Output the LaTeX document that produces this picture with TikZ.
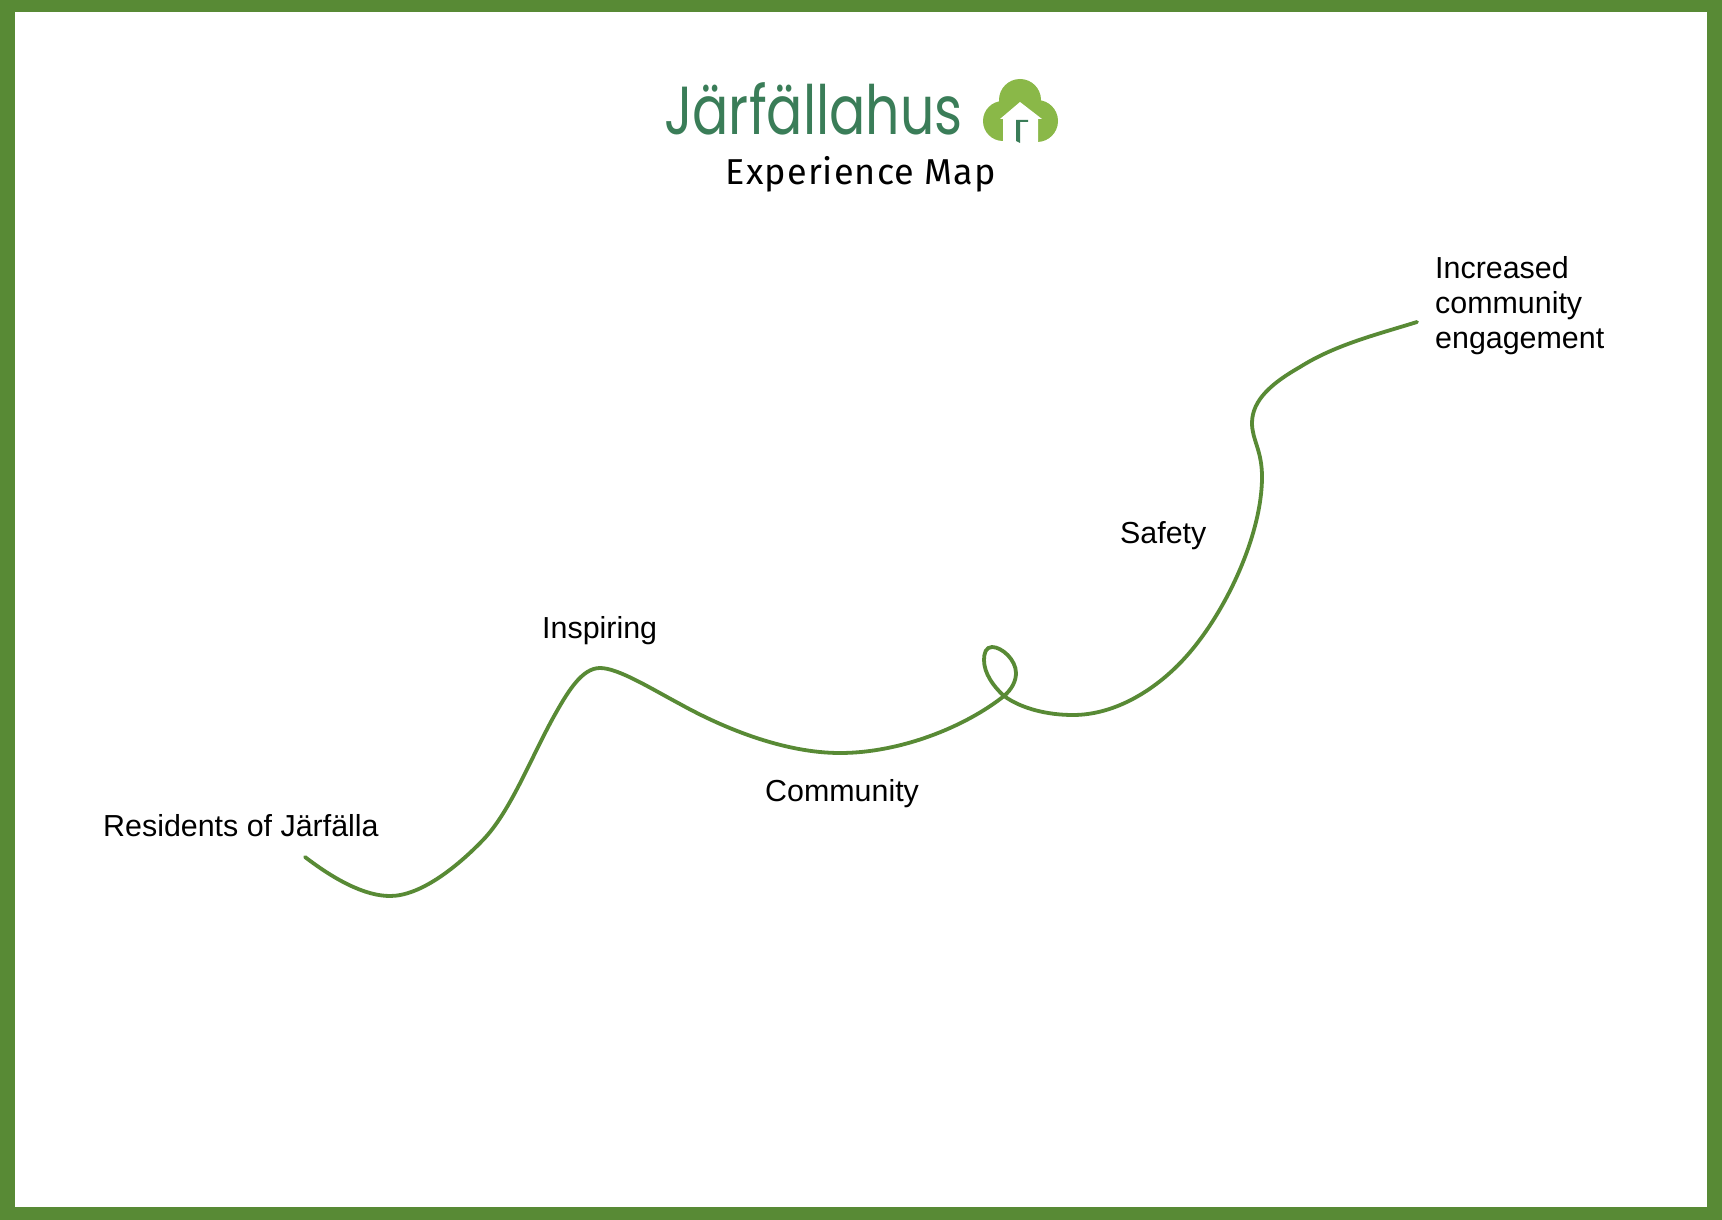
\documentclass[tikz,border=0pt]{standalone}
\usepackage{graphicx}
\usepackage{fontspec}
\setmainfont{Liberation Sans}
\newfontfamily\logoFont{Poppins}
\newfontfamily\titleFont[LetterSpace=3]{Fira Sans}
\definecolor{frameColor}{HTML}{588A35}
\definecolor{logoColor}{HTML}{3A7D58}
\definecolor{treeColor}{HTML}{8AB848}
\begin{document}
\begin{tikzpicture}[x=1pt,y=-1pt]

          \tikzstyle{labelNode} = [anchor=base west, inner sep=0pt, font=\fontsize{30.4}{35}\selectfont, align=left];
          \tikzstyle{pathEdge} = [line width=3.8pt, frameColor, line cap=round];

          \useasboundingbox (0,0) rectangle (1722,1220);
          \fill[frameColor] (0,0) rectangle (1722,1220);
          \fill[white] (15,12) rectangle (1707,1207);

          % logo
          \node[anchor=base west, inner sep=0pt, logoColor, font=\logoFont\fontsize{68}{68}\selectfont] (logoText) at (664,135) {\scalebox{0.79}[1]{Järfällahus}};
          \node[anchor=base, inner sep=0pt, font=\titleFont\fontsize{36}{36}\selectfont] (title) at (861,184) {Experience Map};

          \fill[treeColor] (1020,100) circle (21);
          \fill[treeColor] (1003,121) circle (20);
          \fill[treeColor] (1037,121) circle (21);
          \fill[treeColor] (1003,105) rectangle (1037,141);
          \fill[white] (1020,102) -- (1042,119) -- (1038,119) -- (1038,142) -- (1003,142) -- (1003,119) -- (1000,119) -- cycle;
          \fill[logoColor] (1016,120) -- (1028,120) -- (1028,122) -- (1020,122) -- (1020,143) -- (1016,141) -- cycle;

          \node[labelNode] (residents) at (103,836) {Residents of Järfälla};
          \node[labelNode] (inspiring) at (542,638) {Inspiring};
          \node[labelNode] (community) at (765,801) {Community};
          \node[labelNode] (safety) at (1120,543) {Safety};
          \node[labelNode] (increased) at (1435,348) {Increased\\community\\engagement};

          \draw[pathEdge] (305,857)
            .. controls (335,880) and (365,896) .. (390,896)
            .. controls (420,896) and (456,868) .. (483,840)
            .. controls (510,812) and (530,760) .. (553,718)
            .. controls (568,691) and (582,668) .. (600,668)
            .. controls (618,668) and (650,688) .. (680,704)
            .. controls (725,729) and (785,753) .. (840,753)
            .. controls (900,753) and (965,727) .. (1004,696)
            .. controls (1012,689) and (1016,681) .. (1016,673)
            .. controls (1016,660) and (1002,647) .. (992,647)
            .. controls (986,647) and (984,653) .. (984,660)
            .. controls (984,673) and (993,686) .. (1004,696)
            .. controls (1022,709) and (1048,715) .. (1073,715)
            .. controls (1115,715) and (1155,690) .. (1183,660)
            .. controls (1225,615) and (1262,535) .. (1262,477)
            .. controls (1262,450) and (1252,440) .. (1252,423)
            .. controls (1252,400) and (1272,383) .. (1300,367)
            .. controls (1335,345) and (1375,335) .. (1417,322);
        \end{tikzpicture}
\end{document}
